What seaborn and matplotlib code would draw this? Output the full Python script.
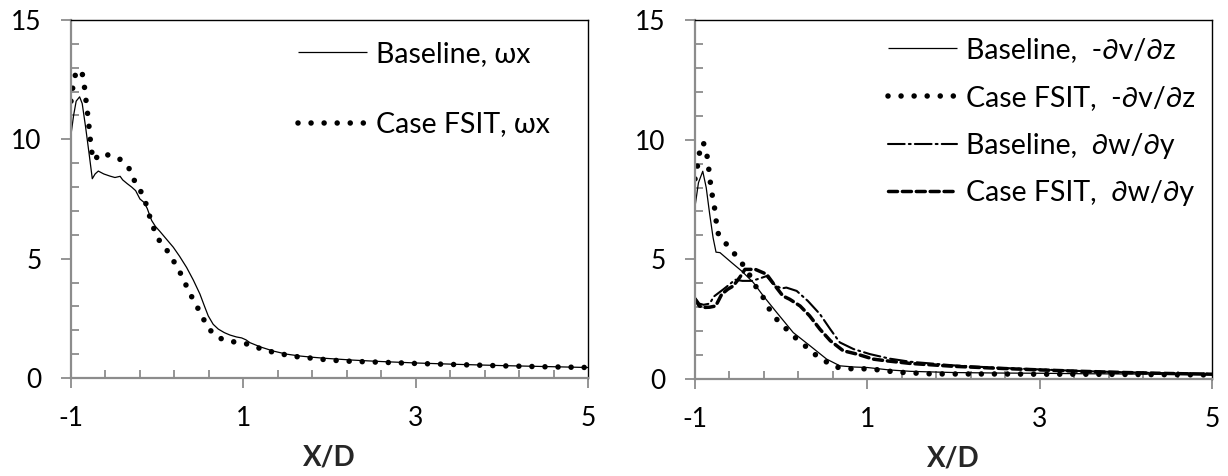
import numpy as np
import pandas as pd
import matplotlib
matplotlib.use("Agg")
import matplotlib.pyplot as plt
from matplotlib.ticker import FixedLocator, MultipleLocator
import seaborn as sns

# ---------------- data ----------------
# Left panel: streamwise vorticity wx
x_base_wx = [-1.0, -0.97, -0.94, -0.9, -0.87, -0.83, -0.79, -0.753, -0.72, -0.683, -0.62, -0.548,
             -0.49, -0.43, -0.40, -0.35, -0.296, -0.25, -0.2, -0.15, -0.115, -0.09, -0.064, -0.02,
             0.03, 0.1, 0.187, 0.26, 0.342, 0.42, 0.496, 0.55, 0.593, 0.65, 0.709, 0.78, 0.845,
             0.92, 0.98, 1.03, 1.077, 1.2, 1.347, 1.5, 1.66, 1.8, 1.97, 2.27, 2.6, 3.0, 3.5, 4.0,
             4.5, 5.0]
y_base_wx = [10.2, 11.0, 11.6, 11.78, 11.5, 10.5, 9.4, 8.35, 8.55, 8.67, 8.55, 8.46,
             8.4, 8.45, 8.3, 8.15, 8.0, 7.85, 7.5, 7.35, 7.1, 6.85, 6.6, 6.35,
             6.15, 5.85, 5.48, 5.1, 4.63, 4.1, 3.52, 3.0, 2.6, 2.25, 2.05, 1.9, 1.8,
             1.72, 1.68, 1.6, 1.48, 1.3, 1.13, 1.0, 0.92, 0.87, 0.82, 0.75, 0.69, 0.63, 0.57, 0.52,
             0.48, 0.44]

x_fsit_wx = [-1.0, -0.975, -0.94, -0.9, -0.865, -0.84, -0.825, -0.805, -0.79, -0.775, -0.756,
             -0.73, -0.69, -0.649, -0.536, -0.447, -0.373, -0.3, -0.254, -0.176, -0.126, -0.083,
             -0.033, 0.032, 0.133, 0.21, 0.284, 0.345, 0.411, 0.485, 0.555, 0.639, 0.76, 0.91,
             1.053, 1.2, 1.347, 1.494, 1.645, 1.796, 1.947, 2.094, 2.245, 2.6, 3.0, 3.5, 4.0,
             4.5, 5.0]
y_fsit_wx = [11.6, 12.3, 12.85, 12.9, 12.7, 12.1, 11.6, 11.0, 10.5, 9.95, 9.4,
             9.1, 9.3, 9.42, 9.31, 9.21, 8.98, 8.66, 8.16, 7.74, 7.26, 6.72,
             6.2, 5.71, 5.26, 4.78, 4.3, 3.81, 3.33, 2.84, 2.35, 1.89, 1.61, 1.5,
             1.42, 1.23, 1.08, 0.97, 0.88, 0.83, 0.77, 0.73, 0.70, 0.66, 0.61, 0.56, 0.51,
             0.47, 0.44]

# Right panel: components
x_base_dvdz = [-1.0, -0.96, -0.91, -0.87, -0.83, -0.79, -0.756, -0.71, -0.574, -0.458, -0.323,
               -0.207, -0.052, 0.14, 0.334, 0.528, 0.682, 0.85, 1.0, 1.25, 1.5, 2.0, 2.5, 3.0,
               3.5, 4.0, 4.5, 5.0]
y_base_dvdz = [7.2, 8.2, 8.68, 8.0, 6.9, 5.9, 5.3, 5.28, 4.86, 4.51, 4.03,
               3.47, 2.78, 1.94, 1.39, 0.83, 0.55, 0.5, 0.48, 0.38, 0.32, 0.27, 0.25, 0.24,
               0.22, 0.21, 0.2, 0.19]

x_fsit_dvdz = [-1.0, -0.97, -0.95, -0.904, -0.864, -0.845, -0.826, -0.806, -0.776, -0.756, -0.748,
               -0.686, -0.585, -0.5, -0.407, -0.276, -0.186, -0.128, -0.031, 0.043, 0.147, 0.267,
               0.375, 0.503, 0.631, 0.782, 0.936, 1.085, 1.236, 1.38, 1.54, 1.7, 1.9, 2.2, 2.5,
               3.0, 3.5, 4.0, 4.5, 5.0]
y_fsit_dvdz = [8.36, 8.93, 9.42, 9.89, 9.42, 8.93, 8.33, 7.8, 7.22, 6.71, 6.18,
               5.83, 5.44, 5.03, 4.61, 3.75, 3.29, 2.85, 2.4, 2.15, 1.78, 1.42,
               1.07, 0.76, 0.5, 0.43, 0.43, 0.4, 0.33, 0.28, 0.25, 0.22, 0.21, 0.21, 0.21,
               0.2, 0.2, 0.19, 0.18, 0.17]

x_base_dwdy = [-1.0, -0.95, -0.9, -0.83, -0.78, -0.67, -0.6, -0.535, -0.45, -0.34, -0.25, -0.17,
               -0.1, 0.0, 0.06, 0.18, 0.31, 0.45, 0.57, 0.68, 0.84, 1.03, 1.26, 1.5, 2.0, 2.5,
               3.0, 3.5, 4.0, 4.5, 5.0]
y_base_dwdy = [3.4, 3.15, 3.1, 3.15, 3.45, 3.75, 3.95, 4.15, 4.1, 4.1, 4.2, 4.3,
               4.0, 3.78, 3.82, 3.68, 3.26, 2.71, 2.08, 1.53, 1.25, 1.04, 0.85, 0.72, 0.57, 0.47,
               0.4, 0.33, 0.28, 0.24, 0.21]

x_fsit_dwdy = [-1.0, -0.95, -0.895, -0.83, -0.76, -0.69, -0.62, -0.555, -0.48, -0.42, -0.3,
               -0.17, -0.07, 0.02, 0.1, 0.22, 0.33, 0.45, 0.57, 0.72, 0.88, 1.07, 1.22, 1.5, 2.0,
               2.5, 3.0, 3.5, 4.0, 4.5, 5.0]
y_fsit_dwdy = [3.33, 3.05, 2.99, 3.0, 3.05, 3.54, 3.75, 3.89, 4.25, 4.58, 4.58,
               4.38, 3.89, 3.47, 3.33, 3.05, 2.64, 2.08, 1.6, 1.18, 1.04, 0.83, 0.76, 0.65, 0.53,
               0.45, 0.38, 0.32, 0.27, 0.23, 0.2]

labels_left = ["Baseline, ωx", "Case FSIT, ωx"]
labels_right = ["Baseline,  -∂v/∂z", "Case FSIT,  -∂v/∂z",
                "Baseline,  ∂w/∂y", "Case FSIT,  ∂w/∂y"]
x_major = [-1, 1, 3, 5]
y_major = [0, 5, 10, 15]
xlabel = "X/D"

# ---------------- style ----------------
sns.set_style("white")
plt.rcParams["font.family"] = ["Lato", "DejaVu Sans"]
plt.rcParams["text.color"] = "black"

FS_TICK = 19
FS_LEG = 20.5
FS_LAB = 20
GRAY = "#8c8c8c"

STY_SOLID = dict(lw=0.9, ls="-")
STY_DOT = dict(lw=4.0, ls=(0, (0.001, 2.35)))
STY_DASHDOT = dict(lw=1.5, ls=(0, (8.0, 2.0, 0.9, 2.0)))
STY_DASH = dict(lw=2.5, ls=(0, (2.6, 1.4)))

fig = plt.figure(figsize=(12.28, 4.76), dpi=100)
axL = fig.add_axes([71 / 1228, 1 - 378 / 476, 517 / 1228, 358 / 476])
axR = fig.add_axes([695 / 1228, 1 - 379 / 476, 517 / 1228, 359 / 476])


def draw(ax, x, y, label, sty):
    df = pd.DataFrame({"x": x, "y": y})
    sns.lineplot(data=df, x="x", y="y", ax=ax, color="black", estimator=None,
                 sort=False, label=label)
    line = ax.lines[-1]
    line.set_linewidth(sty["lw"])
    line.set_linestyle(sty["ls"])
    line.set_dash_capstyle("round")
    line.set_solid_capstyle("butt")
    return line


draw(axL, x_base_wx, y_base_wx, labels_left[0], STY_SOLID)
draw(axL, x_fsit_wx, y_fsit_wx, labels_left[1], STY_DOT)

draw(axR, x_base_dvdz, y_base_dvdz, labels_right[0], STY_SOLID)
draw(axR, x_fsit_dvdz, y_fsit_dvdz, labels_right[1], STY_DOT)
draw(axR, x_base_dwdy, y_base_dwdy, labels_right[2], STY_DASHDOT)
draw(axR, x_fsit_dwdy, y_fsit_dwdy, labels_right[3], STY_DASH)

for ax in (axL, axR):
    ax.set_xlim(-1, 5)
    ax.set_ylim(0, 15)
    ax.xaxis.set_major_locator(FixedLocator(x_major))
    ax.xaxis.set_minor_locator(FixedLocator(np.arange(-1, 5.01, 0.4)))
    ax.yaxis.set_major_locator(FixedLocator(y_major))
    ax.yaxis.set_minor_locator(MultipleLocator(1))
    ax.set_xticklabels([str(v) for v in x_major])
    ax.set_yticklabels([str(v) for v in y_major])
    ax.tick_params(which="major", direction="out", length=7, width=1.3, color=GRAY,
                   labelsize=FS_TICK, labelcolor="black")
    ax.tick_params(axis="y", which="major", pad=14)
    ax.tick_params(axis="x", which="major", pad=13)
    ax.tick_params(which="minor", direction="in", length=5.5, width=1.3, color=GRAY)
    ax.tick_params(bottom=True, left=True, which="both")
    for s in ("left", "bottom"):
        ax.spines[s].set_color(GRAY)
        ax.spines[s].set_linewidth(1.6)
    for s in ("top", "right"):
        ax.spines[s].set_color("black")
        ax.spines[s].set_linewidth(1.0)
        ax.spines[s].set_visible(True)
    ax.set_xlabel(xlabel, fontsize=FS_LAB, fontweight="bold", labelpad=10)
    ax.set_ylabel("")
    ax.grid(False)

axL.legend(loc="upper left", bbox_to_anchor=(0.439, 0.941), frameon=False, fontsize=FS_LEG,
           handlelength=2.42, handletextpad=0.32, labelspacing=1.56, borderpad=0,
           borderaxespad=0)
axR.legend(loc="upper left", bbox_to_anchor=(0.373, 0.952), frameon=False, fontsize=FS_LEG,
           handlelength=2.42, handletextpad=0.32, labelspacing=0.76, borderpad=0,
           borderaxespad=0)

fig.savefig("out.png", dpi=100, facecolor="white")
